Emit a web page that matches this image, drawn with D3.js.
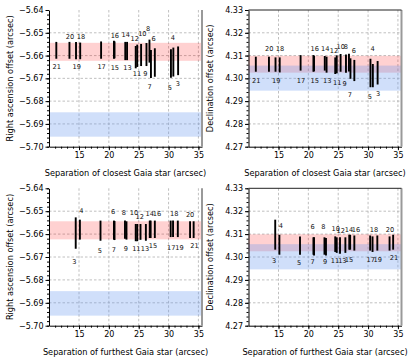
<!DOCTYPE html>
<html>
<head>
<meta charset="utf-8">
<script src="https://cdn.jsdelivr.net/npm/d3@7"></script>
<style>
  body { margin: 0; background: #fff; }
  text { font-family: "DejaVu Sans", sans-serif; }
</style>
</head>
<body>
<div id="chart"></div>
<script>
/* RA / Dec offsets against separation of the closest and furthest Gaia star */

const ids = [3, 4, 5, 6, 7, 8, 9, 10, 11, 12, 13, 14, 15, 16, 17, 18, 19, 20, 21];

const sepClosest  = [31.6, 30.8, 30.4, 27.7, 27.05, 26.8, 26.3, 25.4, 24.75, 24.5, 23.05, 22.75, 20.95, 20.85, 18.7, 15.2, 14.5, 13.4, 11.2];
const sepFurthest = [14.45, 15.15, 18.6, 20.85, 20.95, 22.7, 22.95, 24.5, 24.75, 25.3, 26.2, 26.85, 27.0, 27.7, 30.35, 30.75, 31.55, 33.6, 34.2];

// [low, high] offset intervals, in id order
const raClosest = [
  [-5.6686, -5.6560], [-5.6692, -5.6565], [-5.6697, -5.6572], [-5.6693, -5.6568], [-5.6698, -5.6576],
  [-5.6631, -5.6530], [-5.6646, -5.6545], [-5.6646, -5.6549], [-5.6650, -5.6552], [-5.6656, -5.6558],
  [-5.6620, -5.6540], [-5.6620, -5.6540], [-5.6612, -5.6538], [-5.6614, -5.6535], [-5.6614, -5.6538],
  [-5.6616, -5.6543], [-5.6616, -5.6540], [-5.6614, -5.6540], [-5.6614, -5.6540]
];
const decClosest = [
  [4.2973, 4.3076], [4.2961, 4.3063], [4.2961, 4.3086], [4.2988, 4.3081], [4.2998, 4.3088],
  [4.3030, 4.3108], [4.3025, 4.3105], [4.3029, 4.3107], [4.3022, 4.3101], [4.3019, 4.3092],
  [4.3025, 4.3095], [4.3034, 4.3098], [4.3031, 4.3099], [4.3029, 4.3102], [4.3034, 4.3102],
  [4.3026, 4.3092], [4.3029, 4.3092], [4.3029, 4.3095], [4.3029, 4.3095]
];
const raFurthest = [
  [-5.6664, -5.6527], [-5.6624, -5.6537], [-5.6629, -5.6541], [-5.6624, -5.6541], [-5.6626, -5.6543],
  [-5.6620, -5.6541], [-5.6624, -5.6544], [-5.6631, -5.6556], [-5.6631, -5.6556], [-5.6625, -5.6556],
  [-5.6629, -5.6556], [-5.6617, -5.6541], [-5.6617, -5.6541], [-5.6617, -5.6541], [-5.6613, -5.6541],
  [-5.6613, -5.6541], [-5.6613, -5.6541], [-5.6617, -5.6544], [-5.6617, -5.6544]
];
const decFurthest = [
  [4.3032, 4.3163], [4.3010, 4.3097], [4.3010, 4.3090], [4.3010, 4.3086], [4.3007, 4.3086],
  [4.3010, 4.3086], [4.3007, 4.3083], [4.3022, 4.3090], [4.3018, 4.3086], [4.3014, 4.3086],
  [4.3018, 4.3086], [4.3032, 4.3097], [4.3032, 4.3097], [4.3028, 4.3094], [4.3028, 4.3094],
  [4.3022, 4.3090], [4.3028, 4.3094], [4.3028, 4.3090], [4.3032, 4.3097]
];

// where each id label sits, in data units [sep, offset]
const raClosestLabels = [
  [31.56, -5.6725], [30.72, -5.6521], [30.22, -5.6744], [27.5, -5.6529], [26.83, -5.6739],
  [26.56, -5.6482], [26.11, -5.6681], [25.61, -5.6507], [24.72, -5.6680], [24.33, -5.6526],
  [23.11, -5.6656], [22.83, -5.6511], [21.0, -5.6653], [21.0, -5.6514], [18.78, -5.6649],
  [15.33, -5.6517], [14.61, -5.6649], [13.5, -5.6517], [11.28, -5.6649]
];
const decClosestLabels = [
  [31.67, 4.2931], [30.78, 4.3127], [30.28, 4.2919], [27.6, 4.3120], [26.93, 4.2927],
  [26.26, 4.3139], [26.09, 4.2975], [25.42, 4.3139], [24.85, 4.2978], [24.3, 4.3120],
  [23.17, 4.2988], [22.84, 4.3127], [21.06, 4.2988], [21.06, 4.3127], [18.77, 4.2988],
  [15.25, 4.3127], [14.63, 4.2988], [13.46, 4.3127], [11.28, 4.2988]
];
const raFurthestLabels = [
  [14.22, -5.6723], [15.4, -5.6498], [18.5, -5.6675], [20.72, -5.6505], [20.83, -5.6671],
  [22.5, -5.6509], [22.83, -5.6665], [24.22, -5.6509], [24.61, -5.6664], [25.17, -5.6524],
  [26.06, -5.6664], [26.83, -5.6512], [27.39, -5.6651], [28.05, -5.6512], [30.44, -5.6661],
  [30.94, -5.6513], [31.83, -5.6661], [33.61, -5.6518], [34.33, -5.6651]
];
const decFurthestLabels = [
  [14.25, 4.2981], [15.4, 4.3137], [18.43, 4.2974], [20.73, 4.3130], [20.73, 4.2977],
  [22.5, 4.3130], [22.79, 4.2977], [24.58, 4.3122], [24.46, 4.2981], [25.42, 4.3112],
  [25.69, 4.2981], [26.81, 4.3119], [26.81, 4.2986], [27.98, 4.3119], [30.44, 4.2986],
  [30.98, 4.3119], [31.62, 4.2986], [33.68, 4.3119], [34.35, 4.2996]
];

// shaded reference ranges
const raRedBand   = [-5.6623, -5.6544];
const raBlueBand  = [-5.6956, -5.6849];
const decRedBand  = [4.3025, 4.3099];
const decBlueBand = [4.2946, 4.3056];

const xTicks = [15, 20, 25, 30, 35];
const raTicks = [-5.70, -5.69, -5.68, -5.67, -5.66, -5.65, -5.64];
const decTicks = [4.27, 4.28, 4.29, 4.30, 4.31, 4.32, 4.33];

const width = 416, height = 357;
const cols = [{x0: 49, x1: 202}, {x0: 248.5, x1: 401.5}];
const rows = [{y0: 10, y1: 146.7}, {y0: 188.3, y1: 325.7}];

const panels = [
  {col: 0, row: 0, sep: sepClosest, vals: raClosest, labels: raClosestLabels, ticks: raTicks, red: raRedBand, blue: raBlueBand,
   ylab: "Right ascension offset (arcsec)", xlab: "Separation of closest Gaia star (arcsec)"},
  {col: 1, row: 0, sep: sepClosest, vals: decClosest, labels: decClosestLabels, ticks: decTicks, red: decRedBand, blue: decBlueBand,
   ylab: "Declination offset (arcsec)", xlab: "Separation of closest Gaia star (arcsec)"},
  {col: 0, row: 1, sep: sepFurthest, vals: raFurthest, labels: raFurthestLabels, ticks: raTicks, red: raRedBand, blue: raBlueBand,
   ylab: "Right ascension offset (arcsec)", xlab: "Separation of furthest Gaia star (arcsec)"},
  {col: 1, row: 1, sep: sepFurthest, vals: decFurthest, labels: decFurthestLabels, ticks: decTicks, red: decRedBand, blue: decBlueBand,
   ylab: "Declination offset (arcsec)", xlab: "Separation of furthest Gaia star (arcsec)"}
];

const svg = d3.select("#chart")
  .append("svg")
  .attr("width", width)
  .attr("height", height)
  .attr("viewBox", [0, 0, width, height]);

panels.forEach(p => {
  const c = cols[p.col], r = rows[p.row];
  const g = svg.append("g");

  const x = d3.scaleLinear().domain([9.975, 35.6]).range([c.x0, c.x1]);
  const y = d3.scaleLinear().domain([p.ticks[0], p.ticks[p.ticks.length - 1]]).range([r.y1, r.y0]);

  // dashed grid
  g.append("g").selectAll("line")
    .data(xTicks)
    .join("line")
    .attr("x1", d => x(d)).attr("x2", d => x(d))
    .attr("y1", r.y0).attr("y2", r.y1)
    .attr("stroke", "#b0b0b0").attr("stroke-width", 0.8).attr("stroke-dasharray", "2.5,2");
  g.append("g").selectAll("line")
    .data(p.ticks.slice(1, -1))
    .join("line")
    .attr("y1", d => y(d)).attr("y2", d => y(d))
    .attr("x1", c.x0).attr("x2", c.x1)
    .attr("stroke", "#b0b0b0").attr("stroke-width", 0.8).attr("stroke-dasharray", "2.5,2");

  // bands: red first, blue over it
  g.append("rect")
    .attr("x", c.x0).attr("width", c.x1 - c.x0)
    .attr("y", y(p.red[1])).attr("height", y(p.red[0]) - y(p.red[1]))
    .attr("fill", "rgb(255,0,0)").attr("fill-opacity", 0.18);
  g.append("rect")
    .attr("x", c.x0).attr("width", c.x1 - c.x0)
    .attr("y", y(p.blue[1])).attr("height", y(p.blue[0]) - y(p.blue[1]))
    .attr("fill", "rgb(100,150,240)").attr("fill-opacity", 0.3);

  // error bars
  g.append("g").selectAll("line")
    .data(p.vals)
    .join("line")
    .attr("x1", (d, i) => x(p.sep[i])).attr("x2", (d, i) => x(p.sep[i]))
    .attr("y1", d => y(d[0])).attr("y2", d => y(d[1]))
    .attr("stroke", "black").attr("stroke-width", 1.9);

  // id labels
  g.append("g").selectAll("text")
    .data(p.labels)
    .join("text")
    .attr("x", d => x(d[0])).attr("y", d => y(d[1]))
    .attr("text-anchor", "middle").attr("dominant-baseline", "central")
    .attr("font-size", 6.6).attr("fill", "#111")
    .text((d, i) => ids[i]);

  // axes
  const xAxis = g.append("g")
    .attr("transform", `translate(0,${r.y1})`)
    .call(d3.axisBottom(x).tickValues(xTicks).tickSize(3.5).tickSizeOuter(0).tickPadding(2));
  g.append("g")
    .attr("transform", `translate(0,${r.y1})`)
    .call(d3.axisBottom(x).tickValues(d3.range(11, 36)).tickSize(2).tickFormat(""))
    .call(a => a.select(".domain").remove());
  const yAxis = g.append("g")
    .attr("transform", `translate(${c.x0},0)`)
    .call(d3.axisLeft(y).tickValues(p.ticks).tickSize(3.5).tickSizeOuter(0).tickPadding(2)
      .tickFormat(d3.format(".2f")));
  g.append("g")
    .attr("transform", `translate(${c.x0},0)`)
    .call(d3.axisLeft(y).tickValues(d3.range(0, 31).map(k => p.ticks[0] + k * 0.002)).tickSize(2).tickFormat(""))
    .call(a => a.select(".domain").remove());

  [xAxis, yAxis].forEach(a => {
    a.selectAll("text").attr("font-size", 8).attr("fill", "#000");
    a.select(".domain").attr("stroke-width", 1);
  });

  // right spine (grey) and top spine on the right-hand column
  g.append("line")
    .attr("x1", c.x1).attr("x2", c.x1).attr("y1", r.y0).attr("y2", r.y1)
    .attr("stroke", "#999").attr("stroke-width", 2);
  if (p.col === 1) {
    g.append("line")
      .attr("x1", c.x0).attr("x2", c.x1).attr("y1", r.y0).attr("y2", r.y0)
      .attr("stroke", "#222").attr("stroke-width", 1);
  }

  // axis titles
  g.append("text")
    .attr("x", (c.x0 + c.x1) / 2).attr("y", r.y1 + 26.5)
    .attr("text-anchor", "middle").attr("dominant-baseline", "central")
    .attr("font-size", 8.2)
    .text(p.xlab);
  g.append("text")
    .attr("transform", `translate(${c.x0 - 39},${(r.y0 + r.y1) / 2}) rotate(-90)`)
    .attr("text-anchor", "middle").attr("dominant-baseline", "central")
    .attr("font-size", 8.2)
    .text(p.ylab);
});
</script>
</body>
</html>
